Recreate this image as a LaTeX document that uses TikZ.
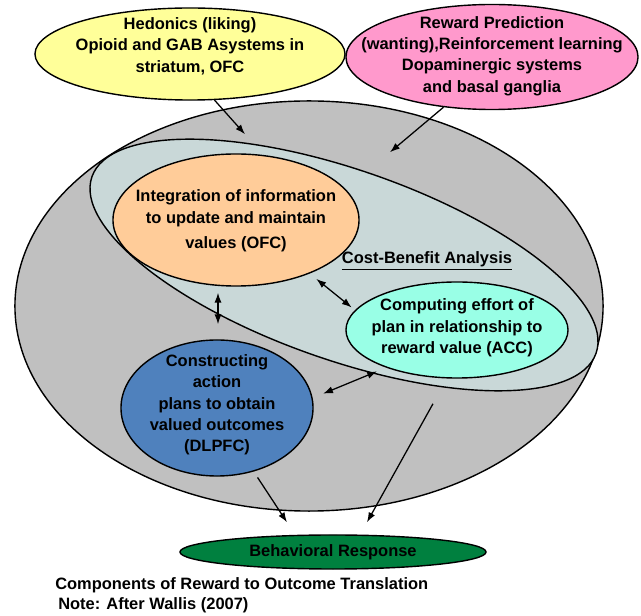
\documentclass[tikz,border=0pt]{standalone}
\usepackage{fontspec}
\setmainfont{Liberation Sans}
\usepackage{xcolor}
\usetikzlibrary{shapes.geometric,arrows.meta,calc,positioning}

\definecolor{hedyellow}{HTML}{FFFF99}
\definecolor{rewpink}{HTML}{FF99CC}
\definecolor{outergray}{HTML}{C0C0C0}
\definecolor{cbagray}{HTML}{C9D8D8}
\definecolor{ofcorange}{HTML}{FFCC99}
\definecolor{accmint}{HTML}{99FFE6}
\definecolor{dlpblue}{HTML}{4F81BD}
\definecolor{behgreen}{HTML}{00803F}

\begin{document}
\begin{tikzpicture}[
                x=0.025cm,y=-0.025cm,
                region/.style={ellipse,draw,line width=1pt,inner sep=0pt},
                txt/.style={align=center,inner sep=0pt,font=\bfseries\fontsize{11.7}{15.2}\selectfont},
                flow/.style={-{Latex[length=7pt,width=5pt]},line width=0.9pt},
                both/.style={{Latex[length=7pt,width=5pt]}-{Latex[length=7pt,width=5pt]},line width=0.9pt},
            ]
            \useasboundingbox (0,0) rectangle (641,616);

            % the nested regions
            \node[region,fill=outergray,minimum width=14.7cm,minimum height=10.25cm] (outer) at (309,306) {};
            \node[region,fill=cbagray,minimum width=13.35cm,minimum height=4.75cm,rotate=-19.3] (cba) at (344,265) {};
            \node[txt] (cbatxt) at (427,261) {\underline{Cost-Benefit Analysis}};

            \node[region,fill=ofcorange,minimum width=6.15cm,minimum height=3.3cm] (ofc) at (236,220) {};
            \node[txt] at ($(ofc)+(0,1)$) {Integration of information\\to update and maintain\\[3pt]values (OFC)};

            \node[region,fill=accmint,minimum width=5.55cm,minimum height=2.4cm] (acc) at (457,330) {};
            \node[txt] at ($(acc)+(0,-2)$) {Computing effort of\\plan in relationship to\\reward value (ACC)};

            \node[region,fill=dlpblue,minimum width=4.8cm,minimum height=3.4cm] (dlp) at (217,408) {};
            \node[txt] at ($(dlp)+(0,-3)$) {Constructing\\action\\plans to obtain\\valued outcomes\\(DLPFC)};

            % inputs on top
            \node[region,fill=hedyellow,minimum width=7.75cm,minimum height=2.3cm] (hed) at (190,54) {};
            \node[txt] at ($(hed)+(0,-8)$) {Hedonics (liking)\\Opioid and GAB Asystems in\\striatum, OFC};

            \node[region,fill=rewpink,minimum width=7.3cm,minimum height=2.625cm] (rew) at (492,57) {};
            \node[txt] at ($(rew)+(0,-1)$) {Reward Prediction\\(wanting),Reinforcement learning\\Dopaminergic systems\\and basal ganglia};

            % output
            \node[region,fill=behgreen,minimum width=7.65cm,minimum height=0.85cm] (beh) at (333,552) {};
            \node[txt] at (beh) {Behavioral Response};

            \node[txt,anchor=west] (cap) at (55,585) {Components of Reward to Outcome Translation};
            \node[txt,anchor=west] (note) at (58,605) {Note: After Wallis (2007)};

            % connectors
            \draw[flow] (hed.-62) -- ($(outer.north)+(-64,34)$);
            \draw[flow] (rew.-134) -- ($(outer.north)+(81,52)$);
            \draw[both] ($(ofc.south)+(-18,6)$) -- ($(dlp.north)+(1,-15)$);
            \draw[both,shorten <=6pt,shorten >=3pt] (ofc.-36) -- (acc.169);
            \draw[both,shorten <=8pt,shorten >=7pt] (dlp.6) -- (acc.208);
            \draw[flow,shorten <=5pt] (dlp.-60) -- ($(beh.north)+(-46,-12)$);
            \draw[flow] ($(outer.south)+(124,-108)$) -- ($(beh.north)+(34,-12)$);
        \end{tikzpicture}
\end{document}
